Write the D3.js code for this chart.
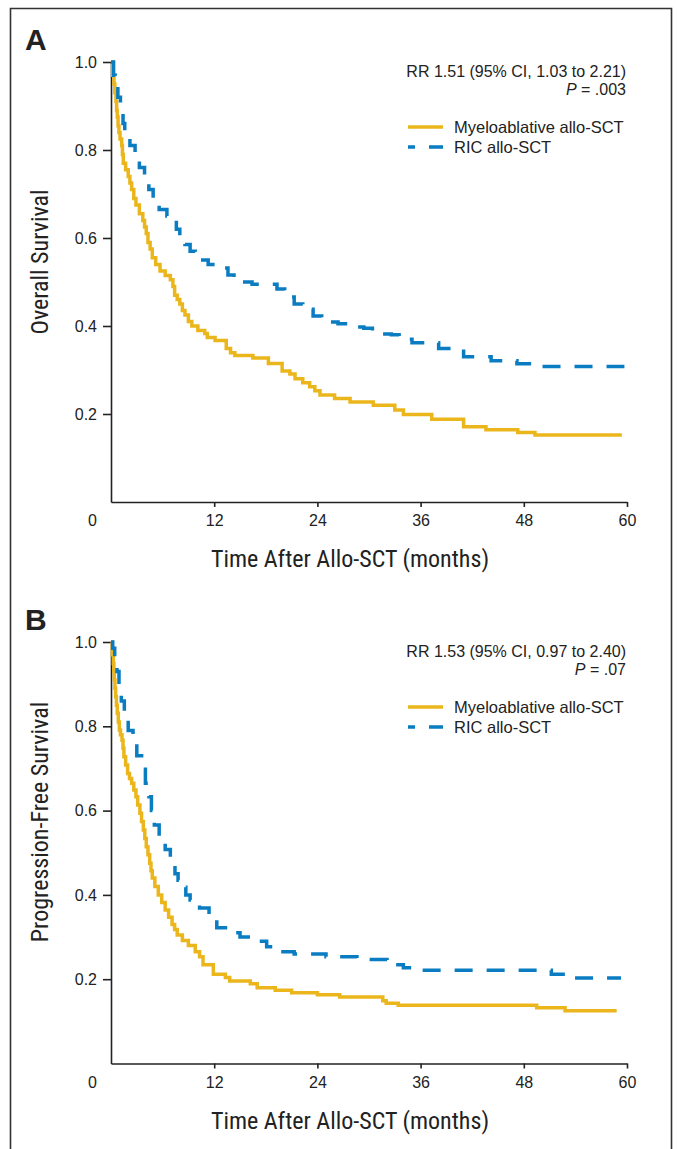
<!DOCTYPE html>
<html>
<head>
<meta charset="UTF-8">
<script src="https://d3js.org/d3.v7.min.js"></script>
<style>
  body { margin: 0; background: #fff; }
  svg { display: block; }
  .tick text { font-family: "Liberation Sans", Arial, sans-serif; font-size: 16px; fill: #222; }
  .domain, .tick line { stroke: #222; stroke-width: 1.6px; }
</style>
</head>
<body>
<svg width="677" height="1149"></svg>
<script>
// x tick labels (months) and y ticks
var monthTicks = [0, 12, 24, 36, 48, 60];
var survTicks = [0.2, 0.4, 0.6, 0.8, 1.0];

// Panel A: overall survival, step times (months) and survival
var osMacTime = [0, 0.2, 0.35, 0.45, 0.58, 0.65, 0.73, 0.82, 0.92, 1.05, 1.24, 1.33, 1.43, 1.7, 2.0, 2.2, 2.4, 2.65, 2.9, 3.3, 3.7, 3.9, 4.1, 4.3, 4.55, 4.8, 5.2, 5.7, 6.3, 6.9, 7.2, 7.4, 7.7, 8.0, 8.3, 8.6, 9.0, 9.4, 10.1, 10.9, 11.2, 12.1, 13.4, 13.9, 14.4, 16.5, 18.3, 19.9, 20.8, 21.4, 22.3, 23.1, 23.7, 24.3, 26.0, 27.8, 30.5, 33.0, 34.0, 37.3, 41.0, 43.6, 47.3, 49.3, 59.4];
var osMacSurv = [1, 0.97, 0.95, 0.93, 0.91, 0.89, 0.875, 0.855, 0.84, 0.825, 0.81, 0.79, 0.77, 0.755, 0.74, 0.725, 0.71, 0.69, 0.675, 0.655, 0.64, 0.625, 0.61, 0.59, 0.575, 0.555, 0.54, 0.525, 0.515, 0.505, 0.49, 0.47, 0.46, 0.45, 0.435, 0.425, 0.41, 0.40, 0.39, 0.383, 0.374, 0.367, 0.349, 0.339, 0.333, 0.327, 0.315, 0.298, 0.291, 0.28, 0.271, 0.262, 0.253, 0.243, 0.235, 0.227, 0.22, 0.209, 0.199, 0.188, 0.171, 0.164, 0.158, 0.152, 0.152];
var osRicTime = [0, 0.3, 0.5, 0.8, 1.1, 1.4, 1.6, 2.2, 2.8, 3.3, 3.9, 4.4, 4.9, 5.6, 6.5, 7.2, 7.6, 8.0, 8.6, 9.2, 9.8, 10.4, 11.3, 12.9, 13.6, 14.3, 14.9, 16.4, 19.3, 20.2, 20.8, 21.3, 22.3, 23.5, 24.5, 25.0, 26.4, 27.5, 29.4, 30.4, 31.5, 32.6, 33.5, 35.0, 38.1, 41.0, 44.2, 47.2, 49.5, 59.7];
var osRicSurv = [1, 0.97, 0.95, 0.92, 0.89, 0.86, 0.83, 0.81, 0.785, 0.76, 0.73, 0.71, 0.683, 0.665, 0.65, 0.64, 0.62, 0.60, 0.585, 0.57, 0.56, 0.55, 0.54, 0.532, 0.516, 0.505, 0.5, 0.495, 0.484, 0.475, 0.466, 0.45, 0.438, 0.423, 0.415, 0.409, 0.405, 0.398, 0.395, 0.385, 0.382, 0.38, 0.37, 0.362, 0.349, 0.33, 0.321, 0.314, 0.308, 0.308];

// Panel B: progression-free survival
var pfsMacTime = [0, 0.15, 0.27, 0.33, 0.38, 0.46, 0.54, 0.63, 0.73, 0.85, 0.97, 1.1, 1.28, 1.4, 1.5, 1.7, 1.93, 2.15, 2.4, 2.65, 2.9, 3.1, 3.36, 3.55, 3.76, 3.93, 4.1, 4.3, 4.5, 4.65, 4.8, 5.1, 5.5, 5.9, 6.3, 6.7, 7.1, 7.4, 7.7, 8.3, 9.0, 9.8, 10.3, 10.7, 11.9, 13.3, 13.8, 16.2, 17.0, 19.1, 21.0, 24.0, 26.6, 31.6, 32.0, 33.4, 49.5, 52.8, 58.8];
var pfsMacSurv = [1, 0.97, 0.949, 0.93, 0.91, 0.89, 0.87, 0.85, 0.831, 0.81, 0.791, 0.78, 0.767, 0.748, 0.728, 0.708, 0.688, 0.676, 0.665, 0.649, 0.633, 0.613, 0.594, 0.574, 0.554, 0.534, 0.514, 0.495, 0.475, 0.457, 0.44, 0.42, 0.4, 0.382, 0.364, 0.347, 0.33, 0.318, 0.305, 0.292, 0.28, 0.265, 0.253, 0.234, 0.212, 0.204, 0.196, 0.189, 0.18, 0.174, 0.168, 0.163, 0.158, 0.149, 0.143, 0.138, 0.132, 0.125, 0.125];
var pfsRicTime = [0, 0.2, 0.43, 0.7, 0.93, 1.2, 1.55, 2.0, 2.56, 3.0, 3.56, 4.0, 4.42, 4.7, 5.04, 5.6, 6.3, 6.9, 7.44, 7.8, 8.2, 8.7, 9.2, 9.8, 10.3, 11.4, 12.3, 13.8, 15.0, 16.7, 18.1, 19.7, 21.3, 25.0, 28.6, 32.1, 34.0, 35.6, 51.2, 53.0, 59.3];
var pfsRicSurv = [1, 0.985, 0.965, 0.93, 0.89, 0.86, 0.824, 0.79, 0.76, 0.73, 0.698, 0.665, 0.633, 0.6, 0.566, 0.537, 0.508, 0.48, 0.45, 0.435, 0.418, 0.4, 0.388, 0.376, 0.369, 0.343, 0.322, 0.31, 0.3, 0.29, 0.277, 0.265, 0.26, 0.253, 0.247, 0.234, 0.227, 0.221, 0.212, 0.203, 0.203];

var seriesNames = ["Myeloablative allo-SCT", "RIC allo-SCT"];
var colors = ["#EBB61C", "#0A7CC2"];
var dashes = [null, "18,14"];

var panels = [
  { label: "A", ytitle: "Overall Survival", rr: "RR 1.51 (95% CI, 1.03 to 2.21)", p: " = .003",
    top: 62, bottom: 502, titleY: 262,
    series: [[osMacTime, osMacSurv], [osRicTime, osRicSurv]] },
  { label: "B", ytitle: "Progression-Free Survival", rr: "RR 1.53 (95% CI, 0.97 to 2.40)", p: " = .07",
    top: 642, bottom: 1063.5, titleY: 822,
    series: [[pfsMacTime, pfsMacSurv], [pfsRicTime, pfsRicSurv]] }
];

var svg = d3.select("svg");

// outer frame (open at the bottom)
svg.append("path")
  .attr("d", "M10.5,1149V8.5H671.5V1149")
  .attr("fill", "none").attr("stroke", "#333").attr("stroke-width", 1.6);

var x = d3.scaleLinear().domain([0, 60]).range([111, 627]);
var narrow = '"Liberation Sans Narrow", "Roboto Condensed", "Liberation Sans", sans-serif';
var sans = '"Liberation Sans", Arial, sans-serif';

panels.forEach(function(pn) {
  var y = d3.scaleLinear().domain([0, 1]).range([pn.bottom, pn.top]);
  var g = svg.append("g");

  g.append("text").text(pn.label)
    .attr("x", 25).attr("y", pn.top - 12)
    .attr("font-family", sans).attr("font-weight", "bold").attr("font-size", 30).attr("fill", "#222");

  // y axis
  g.append("g").attr("transform", "translate(" + x(0) + ",0)")
    .call(d3.axisLeft(y).tickValues(survTicks).tickFormat(d3.format(".1f")).tickSize(8).tickSizeOuter(0).tickPadding(6));

  // x axis
  var xa = g.append("g").attr("transform", "translate(0," + y(0) + ")")
    .call(d3.axisBottom(x).tickValues(monthTicks).tickSize(5).tickSizeOuter(0).tickPadding(8));
  xa.selectAll(".tick").filter(function(d) { return d === 0; })
    .call(function(t) { t.select("line").remove(); t.select("text").attr("x", -19); });

  g.append("text").text("Time After Allo-SCT (months)")
    .attr("x", 350).attr("y", y(0) + 65).attr("text-anchor", "middle")
    .attr("font-family", narrow).attr("font-size", 24).attr("fill", "#222");

  g.append("text").text(pn.ytitle)
    .attr("transform", "translate(40," + pn.titleY + ") rotate(-90)")
    .attr("text-anchor", "middle").attr("dominant-baseline", "central")
    .attr("font-family", narrow).attr("font-size", 24).attr("fill", "#222");

  // curves
  var line = d3.line().curve(d3.curveStepAfter)
    .x(function(d) { return x(d[0]); }).y(function(d) { return y(d[1]); });
  pn.series.forEach(function(s, i) {
    var pts = d3.zip(s[0], s[1]);
    g.append("path").datum(pts)
      .attr("d", line)
      .attr("fill", "none").attr("stroke", colors[i]).attr("stroke-width", 3.5)
      .attr("stroke-dasharray", dashes[i]);
  });

  // annotation
  g.append("text").text(pn.rr)
    .attr("x", 626).attr("y", pn.top + 15).attr("text-anchor", "end")
    .attr("font-family", sans).attr("font-size", 16).attr("fill", "#222");
  var pt = g.append("text").attr("x", 626).attr("y", pn.top + 33).attr("text-anchor", "end")
    .attr("font-family", sans).attr("font-size", 16).attr("fill", "#222");
  pt.append("tspan").attr("font-style", "italic").text("P");
  pt.append("tspan").text(pn.p);

  // legend
  seriesNames.forEach(function(name, i) {
    var ly = pn.top + 65 + i * 20;
    g.append("line").attr("x1", 408).attr("x2", 443).attr("y1", ly).attr("y2", ly)
      .attr("stroke", colors[i]).attr("stroke-width", 3.5)
      .attr("stroke-dasharray", i ? "7,14,14" : null);
    g.append("text").text(name)
      .attr("x", 454).attr("y", ly + 6)
      .attr("font-family", sans).attr("font-size", 16.5).attr("fill", "#222");
  });
});
</script>
</body>
</html>
